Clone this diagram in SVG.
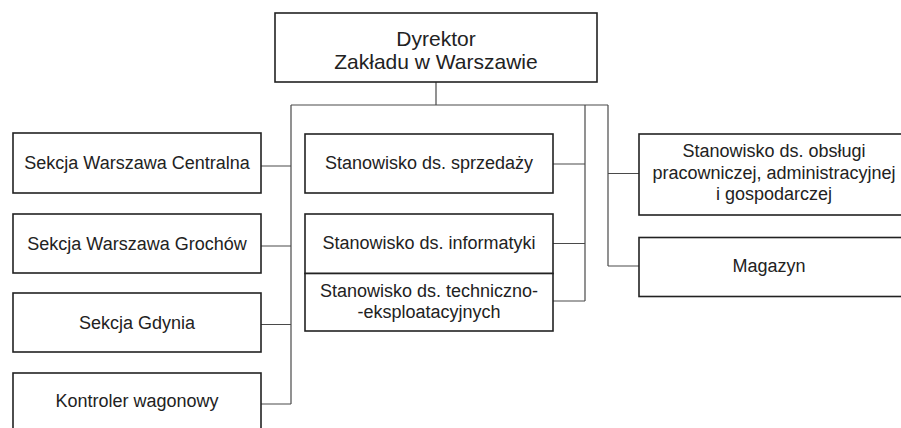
<svg xmlns="http://www.w3.org/2000/svg" width="901" height="428" viewBox="0 0 901 428">
  <style>
    .box { fill: #fff; stroke: #222; stroke-width: 1.6; }
    .link { fill: none; stroke: #4a4a4a; stroke-width: 1.2; }
    text { font-family: "Liberation Sans", Arial, sans-serif; font-size: 18px; fill: #222; text-anchor: middle; }
    .head { font-size: 21px; }
  </style>
  <rect width="901" height="428" fill="#fff"/>

  <!-- connectors -->
  <g id="connectors">
    <path class="link" d="M436 82 V105 M291 105 H608"/>
    <path class="link" d="M291 105 V404 M261 166 H291 M261 246 H291 M261 324.5 H291 M261 404 H291"/>
    <path class="link" d="M585 105 V301 M553 164 H585 M553 243.5 H585 M553 301 H585"/>
    <path class="link" d="M608 105 V266 M608 173.5 H639 M608 266 H639"/>
  </g>

  <!-- top -->
  <g id="dyrektor">
    <rect class="box" x="275" y="13" width="322" height="69"/>
    <text class="head" x="436" y="46">Dyrektor</text>
    <text class="head" x="436" y="69">Zakładu w Warszawie</text>
  </g>

  <!-- left column -->
  <g id="sekcja-centralna">
    <rect class="box" x="13" y="133" width="248" height="60"/>
    <text x="137" y="169">Sekcja Warszawa Centralna</text>
  </g>
  <g id="sekcja-grochow">
    <rect class="box" x="13" y="214" width="248" height="59"/>
    <text x="137" y="249.5">Sekcja Warszawa Grochów</text>
  </g>
  <g id="sekcja-gdynia">
    <rect class="box" x="13" y="293" width="248" height="59"/>
    <text x="137" y="329">Sekcja Gdynia</text>
  </g>
  <g id="kontroler">
    <rect class="box" x="13" y="373" width="248" height="70"/>
    <text x="137" y="407">Kontroler wagonowy</text>
  </g>

  <!-- middle column -->
  <g id="sprzedaz">
    <rect class="box" x="305" y="134" width="248" height="59"/>
    <text x="429" y="169">Stanowisko ds. sprzedaży</text>
  </g>
  <g id="informatyka">
    <rect class="box" x="305" y="214" width="248" height="59.5"/>
    <text x="429" y="249">Stanowisko ds. informatyki</text>
  </g>
  <g id="techniczno">
    <rect class="box" x="305" y="273.5" width="248" height="57.5"/>
    <text x="429" y="297">Stanowisko ds. techniczno-</text>
    <text x="429" y="317.5">-eksploatacyjnych</text>
  </g>

  <!-- right column -->
  <g id="obsluga">
    <rect class="box" x="639" y="134" width="272" height="81"/>
    <text x="774" y="157">Stanowisko ds. obsługi</text>
    <text x="774" y="178.5">pracowniczej, administracyjnej</text>
    <text x="774" y="200">i gospodarczej</text>
  </g>
  <g id="magazyn">
    <rect class="box" x="639" y="237.5" width="272" height="59"/>
    <text x="769" y="272">Magazyn</text>
  </g>
</svg>
